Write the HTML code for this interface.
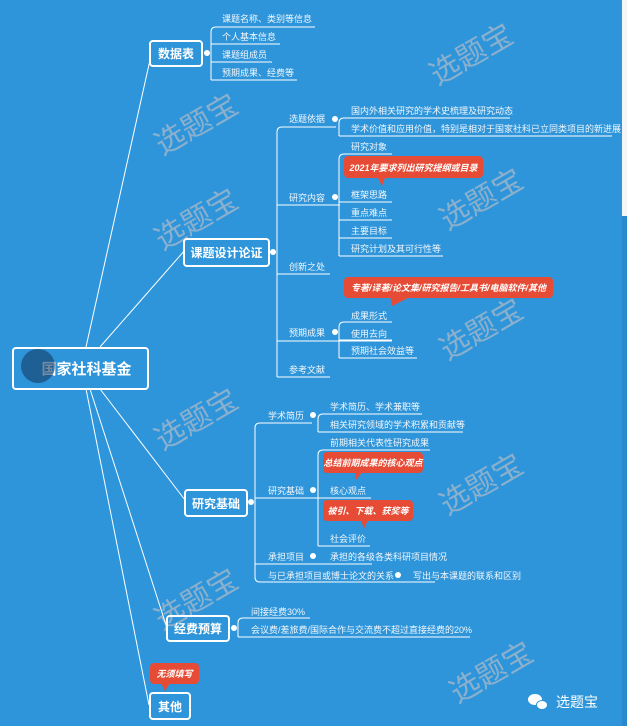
<!DOCTYPE html>
<html><head><meta charset="utf-8"><style>
*{margin:0;padding:0;box-sizing:border-box}
body{width:627px;height:726px;overflow:hidden;background:#2e95db;position:relative;font-family:"Liberation Sans","Noto Sans CJK SC",sans-serif;color:#fff}
.t{position:absolute;font-size:9px;white-space:nowrap;line-height:10px;color:#f2f7fb}
.b{position:absolute;border:2px solid #fff;border-radius:4px;font-weight:bold;font-size:12px;display:flex;align-items:center;justify-content:center;color:#fff}
.c{position:absolute;background:#e64b35;border-radius:4px;font-size:9px;font-style:italic;font-weight:bold;color:#fff;display:flex;align-items:center;justify-content:center;white-space:nowrap}
.w{position:absolute;font-size:30px;color:rgba(170,185,200,0.75);transform:rotate(-30deg);white-space:nowrap}
</style></head><body>
<div style="position:absolute;left:622px;top:0;width:5px;height:216px;background:#f5f5f5"></div>
<div style="position:absolute;left:622px;top:216px;width:5px;height:510px;background:#2a88cc"></div>
<div class="w" style="left:425px;top:30px">选题宝</div>
<div class="w" style="left:150px;top:100px">选题宝</div>
<div class="w" style="left:150px;top:195px">选题宝</div>
<div class="w" style="left:435px;top:175px">选题宝</div>
<div class="w" style="left:435px;top:305px">选题宝</div>
<div class="w" style="left:150px;top:395px">选题宝</div>
<div class="w" style="left:435px;top:460px">选题宝</div>
<div class="w" style="left:150px;top:575px">选题宝</div>
<div class="w" style="left:445px;top:648px">选题宝</div>
<svg width="627" height="726" style="position:absolute;left:0;top:0" fill="none" stroke="#fff" stroke-width="1">
<path d="M86 347 L150 60 M100 347 L185 250 M100 389 L185 500 M90 389 L167 628 M86 389 L149 705"/>
<path d="M211 80 V32 Q211 27 216 27 H315 M211 44 H280 M211 62 H272 M211 80 H297"/>
<path d="M277 377 V132 Q277 127 282 127 H336 M277 205 H340 M277 274 H330 M277 341 H392 M277 377 H330"/>
<path d="M339 136 V123 Q339 118 344 118 H510 M339 136 H612"/>
<path d="M339 256 V159 Q339 154 344 154 H392 M339 202 H392 M339 220 H392 M339 238 H392 M339 256 H443"/>
<path d="M339 358 V327 Q339 322 344 322 H392 M339 340 H392 M339 358 H417"/>
<path d="M255 577 V428 Q255 423 260 423 H312 M255 498 H371 M255 564 H372 M255 577 Q255 582 260 582 H435"/>
<path d="M318 432 V419 Q318 414 323 414 H422 M318 432 H463"/>
<path d="M318 546 V455 Q318 450 323 450 H430 M318 546 H370"/>
<path d="M238 637 V623 Q238 618 243 618 H310 M238 637 H470"/>
<g fill="#fff" stroke="none"><circle cx="207" cy="53" r="3"/><circle cx="273" cy="252" r="3"/><circle cx="335" cy="119" r="3"/><circle cx="335" cy="197" r="3"/><circle cx="335" cy="332" r="3"/><circle cx="251" cy="502" r="3"/><circle cx="313" cy="415" r="3"/><circle cx="313" cy="490" r="3"/><circle cx="313" cy="556" r="3"/><circle cx="398" cy="575" r="3"/><circle cx="234" cy="628" r="3"/>
<path d="M378 178 L385 178 L382 186 Z" fill="#e64b35"/>
<path d="M390 296 L412 296 L392 306 Z" fill="#e64b35"/>
<path d="M355 471 L363 471 L356 480 Z" fill="#e64b35"/>
<path d="M361 520 L368 520 L364 529 Z" fill="#e64b35"/>
<path d="M161 683 L170 683 L165 691 Z" fill="#e64b35"/></g>
</svg>
<div class="b" style="left:12px;top:347px;width:137px;height:43px;font-size:15px;padding-left:12px">国家社科基金</div>
<div style="position:absolute;left:21px;top:349px;width:34px;height:34px;border-radius:50%;background:rgba(20,60,100,0.6)"></div>
<div class="b" style="left:149px;top:40px;width:54px;height:27px">数据表</div>
<div class="b" style="left:183px;top:238px;width:87px;height:29px">课题设计论证</div>
<div class="b" style="left:184px;top:489px;width:64px;height:28px">研究基础</div>
<div class="b" style="left:166px;top:615px;width:64px;height:27px">经费预算</div>
<div class="b" style="left:149px;top:692px;width:42px;height:28px">其他</div>
<div class="t" style="left:222px;top:14px">课题名称、类别等信息</div>
<div class="t" style="left:222px;top:32px">个人基本信息</div>
<div class="t" style="left:222px;top:50px">课题组成员</div>
<div class="t" style="left:222px;top:68px">预期成果、经费等</div>
<div class="t" style="left:289px;top:114px">选题依据</div>
<div class="t" style="left:289px;top:193px">研究内容</div>
<div class="t" style="left:289px;top:262px">创新之处</div>
<div class="t" style="left:289px;top:328px">预期成果</div>
<div class="t" style="left:289px;top:365px">参考文献</div>
<div class="t" style="left:351px;top:106px">国内外相关研究的学术史梳理及研究动态</div>
<div class="t" style="left:351px;top:124px">学术价值和应用价值，特别是相对于国家社科已立同类项目的新进展</div>
<div class="t" style="left:351px;top:142px">研究对象</div>
<div class="c" style="left:344px;top:156px;width:139px;height:22px">2021年要求列出研究提纲或目录</div>
<div class="t" style="left:351px;top:190px">框架思路</div>
<div class="t" style="left:351px;top:208px">重点难点</div>
<div class="t" style="left:351px;top:226px">主要目标</div>
<div class="t" style="left:351px;top:244px">研究计划及其可行性等</div>
<div class="c" style="left:344px;top:277px;width:209px;height:21px">专著/译著/论文集/研究报告/工具书/电脑软件/其他</div>
<div class="t" style="left:351px;top:311px">成果形式</div>
<div class="t" style="left:351px;top:329px">使用去向</div>
<div class="t" style="left:351px;top:346px">预期社会效益等</div>
<div class="t" style="left:268px;top:411px">学术简历</div>
<div class="t" style="left:330px;top:402px">学术简历、学术兼职等</div>
<div class="t" style="left:330px;top:420px">相关研究领域的学术积累和贡献等</div>
<div class="t" style="left:330px;top:438px">前期相关代表性研究成果</div>
<div class="c" style="left:323px;top:452px;width:100px;height:21px">总结前期成果的核心观点</div>
<div class="t" style="left:268px;top:486px">研究基础</div>
<div class="t" style="left:330px;top:486px">核心观点</div>
<div class="c" style="left:323px;top:500px;width:90px;height:21px">被引、下载、获奖等</div>
<div class="t" style="left:330px;top:534px">社会评价</div>
<div class="t" style="left:268px;top:552px">承担项目</div>
<div class="t" style="left:330px;top:552px">承担的各级各类科研项目情况</div>
<div class="t" style="left:268px;top:571px">与已承担项目或博士论文的关系</div>
<div class="t" style="left:413px;top:571px">写出与本课题的联系和区别</div>
<div class="t" style="left:251px;top:607px">间接经费30%</div>
<div class="t" style="left:251px;top:625px">会议费/差旅费/国际合作与交流费不超过直接经费的20%</div>
<div class="c" style="left:150px;top:663px;width:49px;height:21px">无须填写</div>
<div style="position:absolute;left:528px;top:694px;width:14px;height:11px;border-radius:50%;background:#fff"></div>
<div style="position:absolute;left:536px;top:700px;width:12px;height:10px;border-radius:50%;background:#fff;border:1px solid #2e95db"></div>
<div style="position:absolute;left:556px;top:692px;font-size:14px">选题宝</div>
</body></html>
